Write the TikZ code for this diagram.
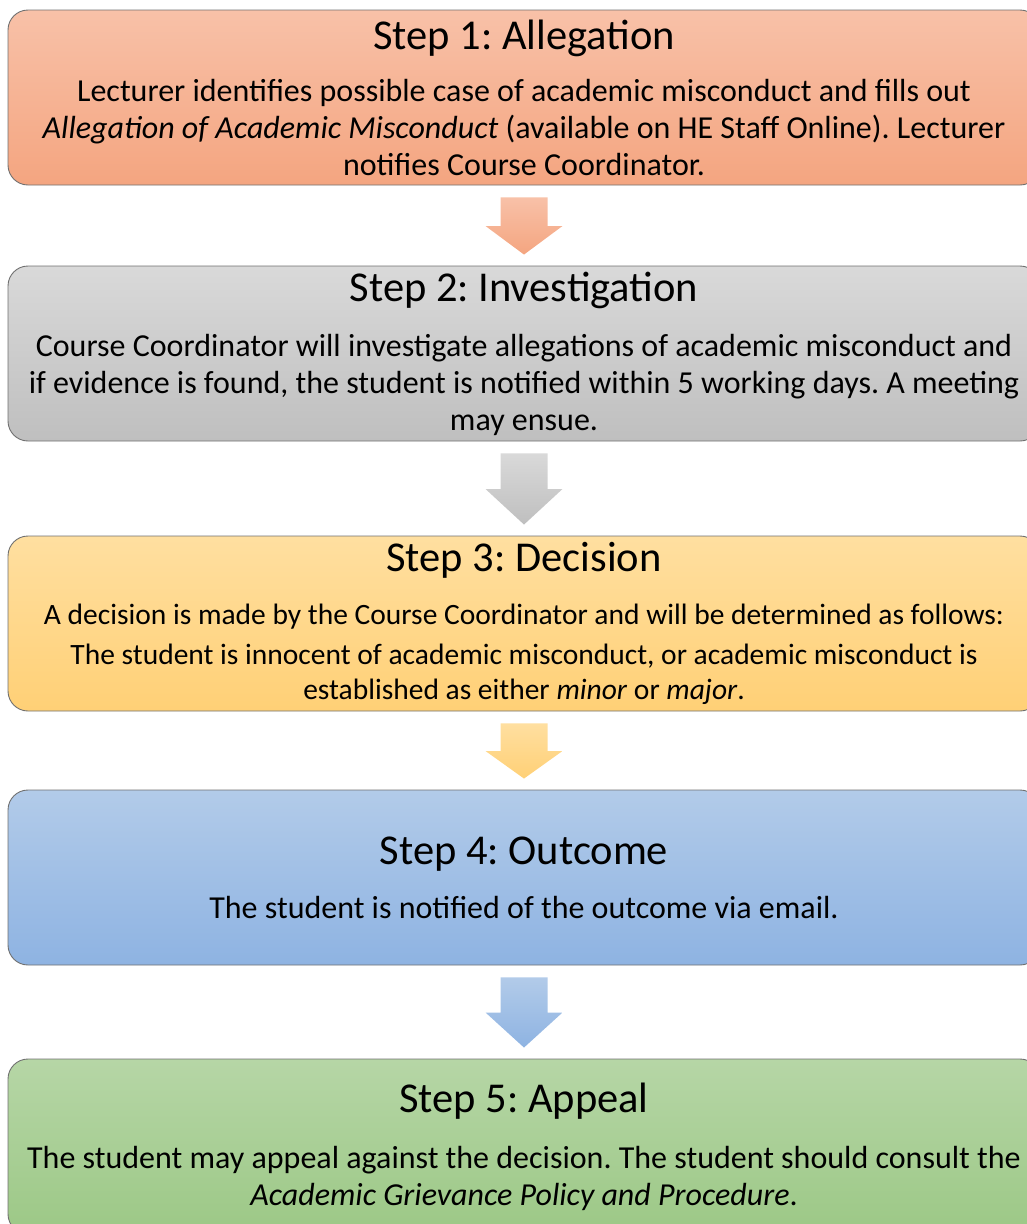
\documentclass[tikz,border=0pt]{standalone}
\usepackage{fontspec}
\setmainfont{Carlito}
\usetikzlibrary{calc}
\definecolor{edgegray}{RGB}{112,112,112}
\definecolor{redtop}{RGB}{248,193,168}
\definecolor{redbot}{RGB}{244,165,128}
\definecolor{graytop}{RGB}{217,217,217}
\definecolor{graybot}{RGB}{191,191,191}
\definecolor{goldtop}{RGB}{255,223,160}
\definecolor{goldbot}{RGB}{255,208,118}
\definecolor{bluetop}{RGB}{178,203,233}
\definecolor{bluebot}{RGB}{142,179,226}
\definecolor{greentop}{RGB}{182,214,166}
\definecolor{greenbot}{RGB}{156,200,134}

\newcommand{\titlefont}{\fontsize{42.5}{48}\selectfont}
\newcommand{\bodyfont}{\fontsize{32}{37}\selectfont\frenchspacing}
\newcommand{\smallbodyfont}{\fontsize{29.5}{35}\selectfont\frenchspacing}
% block arrow between two step boxes
\newcommand{\steparrow}[4]{%
  \coordinate (a) at ($(#1.south)+(0,12)$);
  \coordinate (b) at ($(#2.north)+(0,-11)$);
  \coordinate (m) at ($(a)!0.5!(b)$);
  \shade[top color=#3,bottom color=#4]
    ($(a)+(-23.5,0)$) -- ($(a)+(23.5,0)$) -- ($(m)+(23.5,0)$) -- ($(m)+(38.5,0)$)
    -- (b) -- ($(m)+(-38.5,0)$) -- ($(m)+(-23.5,0)$) -- cycle;}

\tikzset{
  stepbox/.style={draw=edgegray,line width=0.9pt,rounded corners=20pt,
    minimum width=1032pt,minimum height=175pt,inner sep=0pt,
    align=center,font=\bodyfont}
}

\begin{document}
\begin{tikzpicture}[x=1pt,y=-1pt]
  \useasboundingbox (0,0) rectangle (1027,1224);
  \node[stepbox,top color=redtop,bottom color=redbot] (s1) at (524,97.5)
    {{\titlefont Step 1: Allegation}\\[15pt]
     Lecturer identifies possible case of academic misconduct and fills out\\
     \textit{Allegation of Academic Misconduct} (available on HE Staff Online). Lecturer\\
     notifies Course Coordinator.};
  \node[stepbox,top color=graytop,bottom color=graybot] (s2) at (524,353.5)
    {{\titlefont Step 2: Investigation}\\[18pt]
     Course Coordinator will investigate allegations of academic misconduct and\\
     if evidence is found, the student is notified within 5 working days. A meeting\\
     may ensue.};
  \node[stepbox,top color=goldtop,bottom color=goldbot,font=\smallbodyfont] (s3) at (524,623.5)
    {{\titlefont Step 3: Decision}\\[18pt]
     A decision is made by the Course Coordinator and will be determined as follows:\\[5pt]
     The student is innocent of academic misconduct, or academic misconduct is\\
     established as either \textit{minor} or \textit{major}.};
  \node[stepbox,top color=bluetop,bottom color=bluebot] (s4) at (524,877.5)
    {{\titlefont Step 4: Outcome}\\[17pt]
     The student is notified of the outcome via email.};
  \node[stepbox,top color=greentop,bottom color=greenbot] (s5) at (524,1146.5)
    {{\titlefont Step 5: Appeal}\\[19pt]
     The student may appeal against the decision. The student should consult the\\
     \textit{Academic Grievance Policy and Procedure}.};

  \steparrow{s1}{s2}{redtop}{redbot}
  \steparrow{s2}{s3}{graytop}{graybot}
  \steparrow{s3}{s4}{goldtop}{goldbot}
  \steparrow{s4}{s5}{bluetop}{bluebot}
\end{tikzpicture}
\end{document}
